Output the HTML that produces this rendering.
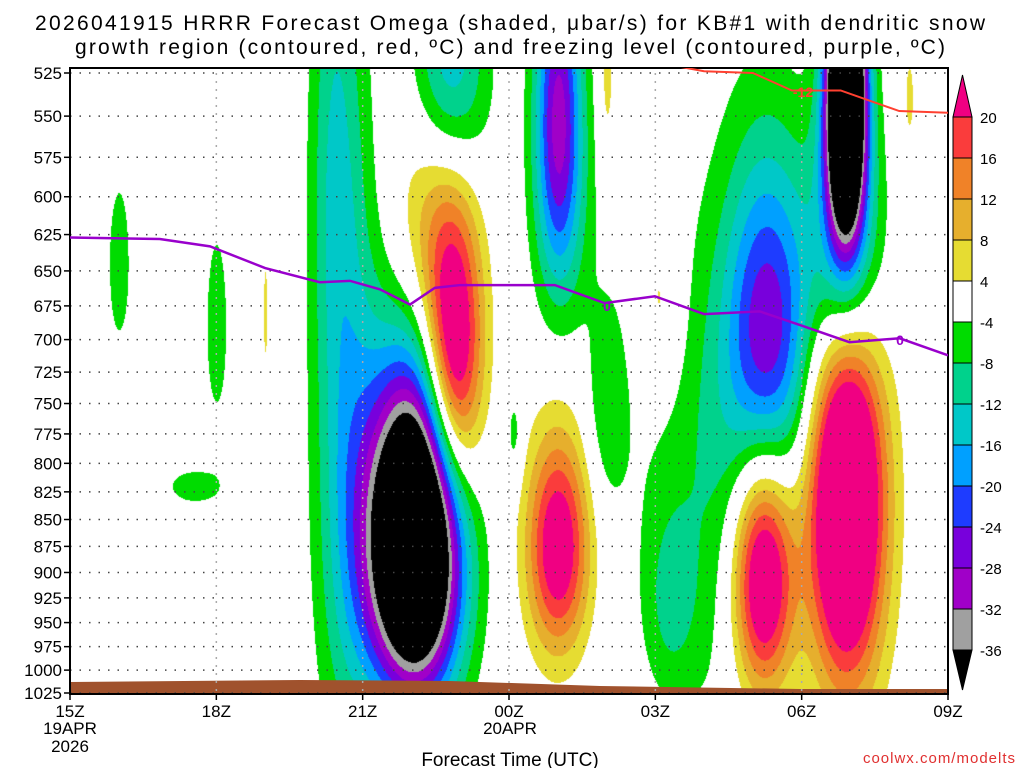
<!DOCTYPE html>
<html><head><meta charset="utf-8"><style>
body{margin:0;background:#fff;width:1024px;height:768px;overflow:hidden;position:relative;font-family:"Liberation Sans",sans-serif}
canvas{position:absolute;left:0;top:0}
svg{position:absolute;left:0;top:0}
</style></head><body>
<canvas id="fld" width="1024" height="768"></canvas>
<svg id="ov" width="1024" height="768"></svg>
<script>
// blob data: hour since 15Z, pressure hPa, amplitude µbar/s, sigma hours, sigma hPa
const blobT  =[7.05, 5.7, 5.4, 7.3, 7.85, 7.75, 10.0, 10.1, 10.0, 9.1, 11.0, 12.1, 15.9, 15.9, 14.3, 13.3, 14.2, 15.9, 1.0, 3.0, 2.55, 4.0, 11.0, 17.2, 12.3];
const blobP  =[870, 800, 560, 610, 715, 525, 545, 600, 875, 775, 750, 675, 535, 640, 695, 830, 900, 830, 645, 690, 820, 680, 530, 540, 930];
const blobAmp=[-70, -13, -8, 10, 32, -18, -25, -7, 26, -6, -7, 7, -75, -22, -25, -8, 34, 42, -7, -7, -6, 5, 6, 5, -6];
const blobSt =[0.66, 0.5, 0.35, 0.55, 0.42, 0.55, 0.33, 0.45, 0.45, 0.12, 0.3, 0.32, 0.28, 0.55, 0.62, 1.2, 0.45, 0.55, 0.18, 0.18, 0.5, 0.05, 0.12, 0.12, 0.35];
const blobSp =[105, 200, 120, 70, 80, 50, 70, 70, 72, 28, 60, 50, 60, 70, 90, 160, 85, 125, 45, 55, 14, 45, 35, 30, 60];
// freezing level
const fzHours=[0,1.84,2.87,4.0,5.12,5.74,6.35,6.97,7.48,8.0,9.94,10.96,11.99,13.0,14.14,14.96,15.98,17.01,18.0];
const fzP=[627,628,633,648,658,657,663,674,662,660,660,673,668,681,679,689,702,699,712];
// -12C line
const dgHours=[11.8,13.0,14.0,14.8,15.8,16.4,17.0,18.0];
const dgP=[518,524,525,535,535,541,547,548];
const yTicks=[525,550,575,600,625,650,675,700,725,750,775,800,825,850,875,900,925,950,975,1000,1025];
const levels=[-36,-32,-28,-24,-20,-16,-12,-8,-4,4,8,12,16,20];
const colors=['#000000','#a0a0a0','#a000c8','#7800dc','#1e3cff','#00a0ff','#00c8c8','#00d28c','#00dc00','#ffffff','#e6dc32','#e6af2d','#f08228','#fa3c3c','#f00082'];
const cbLabels=['20','16','12','8','4','-4','-8','-12','-16','-20','-24','-28','-32','-36'];

const X0=70,X1=948,Y0=73,Y1=693;
const xs=h=>X0+h*(X1-X0)/18;
const ys=p=>Y0+(Y1-Y0)*Math.log(p/525)/Math.log(1025/525);
const pOf=y=>525*Math.exp((y-Y0)/(Y1-Y0)*Math.log(1025/525));
function hex(c){return [parseInt(c.substr(1,2),16),parseInt(c.substr(3,2),16),parseInt(c.substr(5,2),16)];}
const rgb=colors.map(hex);
const cv=document.getElementById('fld');const ctx=cv.getContext('2d');
const fTop=68,fBot=694;
const img=ctx.createImageData(X1-X0,fBot-fTop);
for(let y=fTop;y<fBot;y++){const p=pOf(y);for(let x=X0;x<X1;x++){const h=(x-X0)*18/(X1-X0);let v=0;
 for(let k=0;k<blobT.length;k++){const dt=(h-blobT[k])/blobSt[k],dp=(p-blobP[k])/blobSp[k];const e=dt*dt+dp*dp;if(e<30)v+=blobAmp[k]*Math.exp(-0.5*e);}
 let i=0;while(i<levels.length&&v>=levels[i])i++;const c=rgb[i];const o=((y-fTop)*(X1-X0)+(x-X0))*4;img.data[o]=c[0];img.data[o+1]=c[1];img.data[o+2]=c[2];img.data[o+3]=255;}}
ctx.putImageData(img,X0,fTop);

const NS='http://www.w3.org/2000/svg';const sv=document.getElementById('ov');
function mk(t,a,par){const e=document.createElementNS(NS,t);for(const k in a)e.setAttribute(k,a[k]);(par||sv).appendChild(e);return e;}
// ground
const g=mk('path',{d:'M70,682 L300,680 L450,681 L600,686 L800,689 L948,689 L948,694 L70,694 Z',fill:'#a0522d'});


// grid
yTicks.forEach(p=>{const y=ys(p);const l=mk('line',{x1:X0,x2:X1,y1:y,y2:y,stroke:'#444','stroke-dasharray':'1.5 8','stroke-width':1.5});


const t=mk('text',{x:62,y:y+6,'text-anchor':'end','font-size':17,fill:'#000'});t.textContent=p;


mk('line',{x1:X0-6,x2:X0,y1:y,y2:y,stroke:'#000','stroke-width':1.5});});
const xt=['15Z','18Z','21Z','00Z','03Z','06Z','09Z'];
xt.forEach((s,i)=>{const x=xs(i*3);if(i>0&&i<6)mk('line',{x1:x,x2:x,y1:Y0,y2:694,stroke:'#aaa','stroke-dasharray':'2 6','stroke-width':1.5});
mk('line',{x1:x,x2:x,y1:694,y2:700,stroke:'#000','stroke-width':1.5});
const t=mk('text',{x:x,y:717,'text-anchor':'middle','font-size':17});t.textContent=s;

});
[['19APR',70,734],['2026',70,752],['20APR',510,734]].forEach(a=>{const t=mk('text',{x:a[1],y:a[2],'text-anchor':'middle','font-size':17});t.textContent=a[0];

});
// frame
const fr=mk('rect',{x:X0,y:68,width:X1-X0,height:626,fill:'none',stroke:'#000','stroke-width':2});


// lines
const defs=mk('defs',{});const cp=mk('clipPath',{id:'cp'},defs);mk('rect',{x:X0,y:68,width:X1-X0,height:626},cp);
const fz=mk('polyline',{points:fzHours.map((h,i)=>xs(h)+','+ys(fzP[i])).join(' '),fill:'none',stroke:'#9900cc','stroke-width':2.5,'clip-path':'url(#cp)'});


const dg=mk('polyline',{points:dgHours.map((h,i)=>xs(h)+','+ys(dgP[i])).join(' '),fill:'none',stroke:'#ff4030','stroke-width':2,'clip-path':'url(#cp)'});


[['0',607,311,'#9900cc'],['0',900,345,'#9900cc'],['-12',803,97,'#ff4030']].forEach(a=>{
const t=mk('text',{x:a[1],y:a[2],'text-anchor':'middle','font-size':14,'font-weight':'bold',fill:a[3]});t.textContent=a[0];

});
// colorbar
const cbx=953,cbw=19,cb0=117,cbh=41;
const tt=mk('path',{d:`M${cbx},${cb0} L${cbx+cbw/2},75 L${cbx+cbw},${cb0} Z`,fill:colors[14],stroke:'#000'});


for(let i=0;i<13;i++){const r=mk('rect',{x:cbx,y:cb0+i*cbh,width:cbw,height:cbh,fill:colors[13-i],stroke:'#000'});

}
const bt=mk('path',{d:`M${cbx},${cb0+13*cbh} L${cbx+cbw/2},690 L${cbx+cbw},${cb0+13*cbh} Z`,fill:'#000',stroke:'#000'});


cbLabels.forEach((s,i)=>{const t=mk('text',{x:980,y:cb0+i*cbh+6,'font-size':15});t.textContent=s;

});
</script>
<svg width="1024" height="768" style="pointer-events:none">
<text x="510" y="30" text-anchor="middle" font-size="21" textLength="950">2026041915 HRRR Forecast Omega (shaded, μbar/s) for KB#1 with dendritic snow</text>
<text x="510" y="54" text-anchor="middle" font-size="21" textLength="870">growth region (contoured, red, ºC) and freezing level (contoured, purple, ºC)</text>
<text x="510" y="766" text-anchor="middle" font-size="19">Forecast Time (UTC)</text>
<text x="1016" y="763" text-anchor="end" font-size="15" fill="#e03030" letter-spacing="1">coolwx.com/modelts</text>
</svg>
</body></html>
